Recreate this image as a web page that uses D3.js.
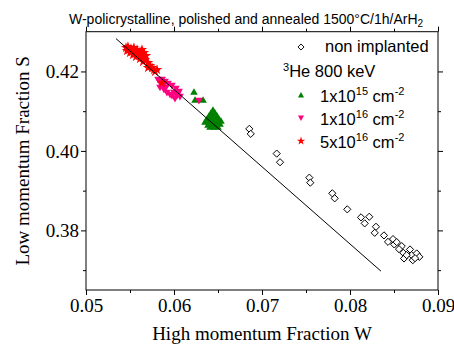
<!DOCTYPE html>
<html><head><meta charset="utf-8">
<script src="https://cdn.jsdelivr.net/npm/d3@7"></script>
<style>
body{margin:0;background:#fff;}
svg{display:block;}
</style></head>
<body><svg id="c" width="454" height="345"></svg>
<script>
// ---- data ----
const xDomain = [0.05, 0.09];
const yDomain = [0.365, 0.430];
const xTickValues = [0.05, 0.06, 0.07, 0.08, 0.09];
const xTickLabels = ["0.05", "0.06", "0.07", "0.08", "0.09"];
const yTickValues = [0.38, 0.40, 0.42];
const yTickLabels = ["0.38", "0.40", "0.42"];
const xMinor = [0.055, 0.065, 0.075, 0.085];
const yMinor = [0.37, 0.39, 0.41];

const nonImplW = [0.06856,0.06872,0.07167,0.07205,0.07538,0.07549,0.07799,0.07826,0.07969,0.08125,0.08167,0.08219,0.08295,0.08281,0.08386,0.08432,0.08489,0.08503,0.08531,0.08588,0.08606,0.08682,0.08701,0.08758,0.08788,0.08614,0.08713,0.08644,0.08557,0.08739];
const nonImplS = [0.40555,0.40429,0.39932,0.39715,0.39327,0.39201,0.38933,0.38807,0.38530,0.38328,0.38177,0.38343,0.38091,0.37939,0.37874,0.37712,0.37781,0.37647,0.37705,0.37604,0.37435,0.37521,0.37377,0.37420,0.37334,0.37294,0.37251,0.37377,0.37528,0.37301];

const he1e15W = [0.06227,0.06239,0.06330,0.06443,0.06420,0.06466,0.06398,0.06443,0.06489,0.06375,0.06420,0.06466,0.06511,0.06352,0.06398,0.06443,0.06489,0.06534,0.06386,0.06432,0.06477,0.06523,0.06455,0.06500,0.06409];
const he1e15S = [0.41488,0.41286,0.41286,0.41034,0.40958,0.40958,0.40883,0.40883,0.40883,0.40807,0.40807,0.40807,0.40807,0.40731,0.40731,0.40731,0.40731,0.40757,0.40656,0.40656,0.40656,0.40681,0.40605,0.40605,0.40605];

const he1e16W = [0.05818,0.05841,0.05864,0.05875,0.05898,0.05909,0.05932,0.05886,0.05841,0.05955,0.05977,0.06000,0.06023,0.06034,0.06057,0.06068,0.05977,0.06011,0.05920,0.06045,0.06284];
const he1e16S = [0.41791,0.41715,0.41791,0.41639,0.41740,0.41589,0.41690,0.41538,0.41589,0.41412,0.41639,0.41463,0.41564,0.41387,0.41488,0.41362,0.41387,0.41311,0.41463,0.41438,0.41261];

const he5e16W = [0.05455,0.05466,0.05477,0.05489,0.05500,0.05511,0.05523,0.05534,0.05545,0.05545,0.05557,0.05568,0.05580,0.05591,0.05602,0.05614,0.05614,0.05625,0.05636,0.05648,0.05659,0.05670,0.05682,0.05648,0.05705,0.05727,0.05750,0.05773,0.05784,0.05807,0.05705,0.05864];
const he5e16S = [0.42598,0.42522,0.42623,0.42547,0.42472,0.42573,0.42497,0.42421,0.42598,0.42522,0.42446,0.42371,0.42547,0.42472,0.42396,0.42497,0.42320,0.42421,0.42547,0.42371,0.42472,0.42295,0.42396,0.42245,0.42219,0.42144,0.42093,0.42043,0.41992,0.42043,0.42093,0.41715];

const fitW = [0.05341, 0.08352];
const fitS = [0.42825, 0.36974];

const titleText = "W-policrystalline, polished and annealed 1500°C/1h/ArH";
const xTitle = "High momentum Fraction W";
const yTitle = "Low momentum Fraction S";

// ---- drawing ----
const svg = d3.select("#c");
const L = 86, R = 438, T = 31.7, B = 290;
const x = d3.scaleLinear().domain(xDomain).range([L, R]);
const y = d3.scaleLinear().domain(yDomain).range([B, T]);

const serif = "'Liberation Serif','Times New Roman',serif";
const sans = "'Liberation Sans',Arial,sans-serif";

// frame
svg.append("rect").attr("x", L).attr("y", T).attr("width", R - L).attr("height", B - T)
  .attr("fill", "none").attr("stroke", "#000").attr("stroke-width", 1);

function styleAxis(g){
  g.select(".domain").remove();
  g.selectAll("line").attr("stroke", "#000");
  g.selectAll("text").attr("font-family", serif).attr("font-size", 19).attr("fill", "#000");
}
// bottom
svg.append("g").attr("transform", `translate(0,${B})`)
  .call(d3.axisBottom(x).tickValues(xTickValues).tickFormat((d,i)=>xTickLabels[i]).tickSize(5).tickPadding(4))
  .call(styleAxis);
svg.append("g").attr("transform", `translate(0,${B})`)
  .call(d3.axisBottom(x).tickValues(xMinor).tickFormat("").tickSize(3)).call(styleAxis);
// top
svg.append("g").attr("transform", `translate(0,${T})`)
  .call(d3.axisTop(x).tickValues(xTickValues).tickFormat("").tickSize(5)).call(styleAxis);
svg.append("g").attr("transform", `translate(0,${T})`)
  .call(d3.axisTop(x).tickValues(xMinor).tickFormat("").tickSize(3)).call(styleAxis);
// left
svg.append("g").attr("transform", `translate(${L},0)`)
  .call(d3.axisLeft(y).tickValues(yTickValues).tickFormat((d,i)=>yTickLabels[yTickValues.indexOf(d)]).tickSize(5).tickPadding(2))
  .call(styleAxis);
svg.append("g").attr("transform", `translate(${L},0)`)
  .call(d3.axisLeft(y).tickValues(yMinor).tickFormat("").tickSize(3)).call(styleAxis);
// right
svg.append("g").attr("transform", `translate(${R},0)`)
  .call(d3.axisRight(y).tickValues(yTickValues).tickFormat("").tickSize(5)).call(styleAxis);
svg.append("g").attr("transform", `translate(${R},0)`)
  .call(d3.axisRight(y).tickValues(yMinor).tickFormat("").tickSize(3)).call(styleAxis);

// markers
const plot = svg.append("g");
const diamond = "M0,-3.6L3.6,0L0,3.6L-3.6,0Z";
const triUp = "M0,-3.6L3.8,3L-3.8,3Z";
const triDown = "M0,3.6L3.8,-3L-3.8,-3Z";
const star = d3.symbol().type(d3.symbolStar).size(34)();

function pts(W, S){ return W.map((w,i)=>[w, S[i]]); }

plot.selectAll(".dia").data(pts(nonImplW, nonImplS)).join("path")
  .attr("d", diamond).attr("transform", d=>`translate(${x(d[0])},${y(d[1])})`)
  .attr("fill", "#fff").attr("stroke", "#000").attr("stroke-width", 1);
plot.selectAll(".g15").data(pts(he1e15W, he1e15S)).join("path")
  .attr("d", triUp).attr("transform", d=>`translate(${x(d[0])},${y(d[1])})`)
  .attr("fill", "#008000");
plot.selectAll(".p16").data(pts(he1e16W, he1e16S)).join("path")
  .attr("d", triDown).attr("transform", d=>`translate(${x(d[0])},${y(d[1])})`)
  .attr("fill", "#ff0080");
plot.selectAll(".r5").data(pts(he5e16W, he5e16S)).join("path")
  .attr("d", star).attr("transform", d=>`translate(${x(d[0])},${y(d[1])})`)
  .attr("fill", "#ff0000");

// fit line
svg.append("line")
  .attr("x1", x(fitW[0])).attr("y1", y(fitS[0]))
  .attr("x2", x(fitW[1])).attr("y2", y(fitS[1]))
  .attr("stroke", "#000").attr("stroke-width", 1);

// titles
const t = svg.append("text").attr("x", 69).attr("y", 23.5)
  .attr("font-family", sans).attr("font-size", 14).attr("fill", "#000");
t.append("tspan").text(titleText);
t.append("tspan").attr("font-size", 10).attr("dy", 3.5).text("2");

svg.append("text").attr("x", (L+R)/2).attr("y", 340).attr("text-anchor", "middle")
  .attr("font-family", serif).attr("font-size", 19).attr("fill", "#000").text(xTitle);
svg.append("text").attr("transform", `translate(29,${(T+B)/2}) rotate(-90)`).attr("text-anchor", "middle")
  .attr("font-family", serif).attr("font-size", 19).attr("fill", "#000").text(yTitle);

// legend
const lg = svg.append("g").attr("font-family", sans).attr("fill", "#000");
lg.append("path").attr("d", diamond).attr("transform", "translate(301,47) scale(0.85)")
  .attr("fill", "#fff").attr("stroke", "#000").attr("stroke-width", 1.1);
lg.append("text").attr("x", 325).attr("y", 52).attr("font-size", 16.5).text("non implanted");

const he = lg.append("text").attr("x", 283).attr("y", 77).attr("font-size", 16.5);
he.append("tspan").attr("font-size", 11).attr("dy", -6).text("3");
he.append("tspan").attr("dy", 6).text("He 800 keV");

const rows = [
  {path: triUp, color: "#008000", pre: "1x10", exp: "15", y: 102},
  {path: triDown, color: "#ff0080", pre: "1x10", exp: "16", y: 125},
  {path: star, color: "#ff0000", pre: "5x10", exp: "16", y: 148}
];
rows.forEach(r => {
  lg.append("path").attr("d", r.path).attr("transform", `translate(301,${r.y-7}) scale(0.8)`).attr("fill", r.color);
  const tx = lg.append("text").attr("x", 320).attr("y", r.y).attr("font-size", 16.5);
  tx.append("tspan").text(r.pre);
  tx.append("tspan").attr("font-size", 11).attr("dy", -7).text(r.exp);
  tx.append("tspan").attr("dy", 7).text(" cm");
  tx.append("tspan").attr("font-size", 11).attr("dy", -7).text("-2");
});
</script></body></html>
